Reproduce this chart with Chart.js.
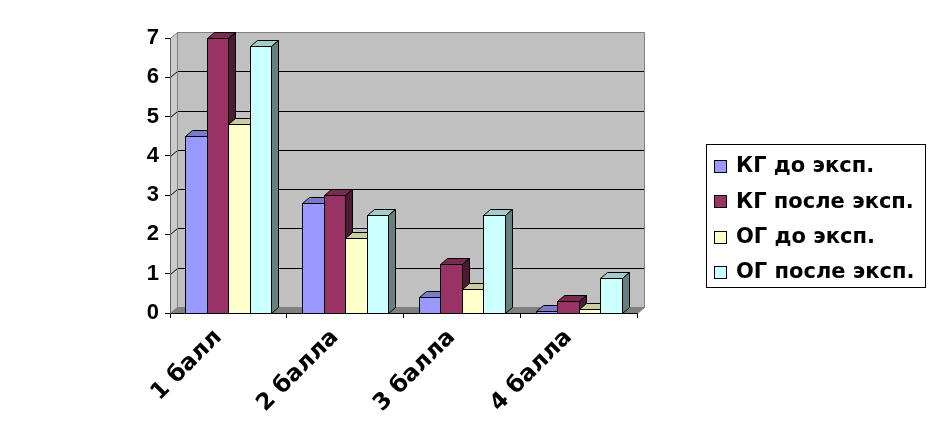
<!DOCTYPE html>
<html><head><meta charset="utf-8">
<script src="https://cdn.jsdelivr.net/npm/chart.js@4/dist/chart.umd.min.js"></script>
<style>html,body{margin:0;padding:0;background:#fff;}#wrap{width:936px;height:432px;}</style>
</head><body><div id="wrap"><canvas id="c" width="936" height="432"></canvas></div>
<script>
const categories = ['1 балл', '2 балла', '3 балла', '4 балла'];
const seriesNames = ['КГ до эксп.', 'КГ после эксп.', 'ОГ до эксп.', 'ОГ после эксп.'];
const kgBefore = [4.5, 2.8, 0.4, 0.05];
const kgAfter  = [7.0, 3.0, 1.25, 0.3];
const ogBefore = [4.8, 1.9, 0.6, 0.1];
const ogAfter  = [6.8, 2.5, 2.5, 0.9];
const yTicks = [0, 1, 2, 3, 4, 5, 6, 7];
const colors = ['#9999FF', '#993366', '#FFFFCC', '#CCFFFF'];

const FONT = '"Liberation Sans", Arial, sans-serif';
const WIDE = '"DejaVu Sans", Verdana, sans-serif';
const DX = 7, DY = -6;

function shade(hex, f) {
  const n = parseInt(hex.slice(1), 16);
  const r = Math.round(((n >> 16) & 255) * f), g = Math.round(((n >> 8) & 255) * f), b = Math.round((n & 255) * f);
  return 'rgb(' + r + ',' + g + ',' + b + ')';
}
function poly(ctx, pts, fill, stroke) {
  ctx.beginPath();
  ctx.moveTo(pts[0][0], pts[0][1]);
  for (let i = 1; i < pts.length; i++) ctx.lineTo(pts[i][0], pts[i][1]);
  ctx.closePath();
  if (fill) { ctx.fillStyle = fill; ctx.fill(); }
  if (stroke) { ctx.strokeStyle = stroke; ctx.lineWidth = 1; ctx.stroke(); }
}

const threeD = {
  id: 'threeD',
  beforeDraw(chart) {
    const ctx = chart.ctx, a = chart.chartArea, ys = chart.scales.y;
    ctx.save();
    const L = a.left + 0.5, R = a.right + 0.5, T = a.top + 0.5, B = a.bottom + 0.5;
    poly(ctx, [[L, T], [L + DX, T + DY], [L + DX, B + DY], [L, B]], '#CBCBCB', null);
    poly(ctx, [[L + DX, T + DY], [R + DX, T + DY], [R + DX, B + DY], [L + DX, B + DY]], '#C0C0C0', null);
    ctx.strokeStyle = '#000'; ctx.lineWidth = 1;
    yTicks.forEach(v => {
      if (v === 0 || v === yTicks[yTicks.length - 1]) return;
      const py = Math.round(ys.getPixelForValue(v)) + 0.5;
      ctx.beginPath();
      ctx.moveTo(L, py); ctx.lineTo(L + DX, py + DY); ctx.lineTo(R + DX, py + DY);
      ctx.stroke();
    });
    poly(ctx, [[L + DX, T + DY], [R + DX, T + DY], [R + DX, B + DY], [L + DX, B + DY]], null, '#808080');
    poly(ctx, [[L, T], [L + DX, T + DY], [L + DX, B + DY], [L, B]], null, '#808080');
    poly(ctx, [[L, B], [R, B], [R + DX, B + DY], [L + DX, B + DY]], '#808080', '#808080');
    ctx.restore();
  },
  beforeDatasetsDraw(chart) {
    const ctx = chart.ctx;
    ctx.save();
    const n = chart.data.labels.length;
    for (let i = 0; i < n; i++) {
      chart.data.datasets.forEach((ds, d) => {
        const el = chart.getDatasetMeta(d).data[i];
        const p = el.getProps(['x', 'y', 'base', 'width'], true);
        const l = Math.round(p.x - p.width / 2) + 0.5, r = Math.round(p.x + p.width / 2) + 0.5;
        const t = Math.round(p.y) + 0.5, b = Math.round(p.base) + 0.5;
        const c = ds.backgroundColor;
        poly(ctx, [[l, t], [r, t], [r, b], [l, b]], c, '#000');
        poly(ctx, [[l, t], [l + DX, t + DY], [r + DX, t + DY], [r, t]], shade(c, 0.8), '#000');
        poly(ctx, [[r, t], [r + DX, t + DY], [r + DX, b + DY], [r, b]], shade(c, 0.5), '#000');
      });
    }
    ctx.restore();
    return false;
  },
  afterDraw(chart) {
    const ctx = chart.ctx;
    ctx.save();
    const bx = 706.5, by = 144.5, bw = 219, bh = 143;
    ctx.fillStyle = '#fff'; ctx.fillRect(bx, by, bw, bh);
    ctx.strokeStyle = '#000'; ctx.lineWidth = 1; ctx.strokeRect(bx, by, bw, bh);
    ctx.font = 'bold 21px ' + WIDE;
    ctx.textBaseline = 'middle'; ctx.textAlign = 'left';
    chart.data.datasets.forEach((ds, d) => {
      const cy = 166 + d * 35.3;
      ctx.fillStyle = ds.backgroundColor;
      ctx.fillRect(714, Math.round(cy - 6), 13, 13);
      ctx.strokeStyle = '#000';
      ctx.strokeRect(714.5, Math.round(cy - 6) + 0.5, 12, 12);
      ctx.fillStyle = '#000';
      ctx.fillText(ds.label, 736, cy + 1);
    });
    ctx.restore();
  }
};

new Chart(document.getElementById('c'), {
  type: 'bar',
  data: {
    labels: categories,
    datasets: [kgBefore, kgAfter, ogBefore, ogAfter].map((vals, k) => ({
      label: seriesNames[k],
      data: vals,
      backgroundColor: colors[k],
      borderColor: '#000',
      borderWidth: 1,
      categoryPercentage: 0.735,
      barPercentage: 1
    }))
  },
  options: {
    responsive: false,
    animation: false,
    devicePixelRatio: 1,
    layout: { padding: { left: 0, right: 299, top: 38, bottom: 0 } },
    plugins: { legend: { display: false }, tooltip: { enabled: false } },
    scales: {
      x: {
        afterFit(s) { s.height = 119; },
        grid: { offset: true, drawOnChartArea: false, color: '#000', tickLength: 5 },
        border: { color: '#000' },
        ticks: { color: '#000', font: { family: WIDE, size: 23, weight: 'bold' }, minRotation: 45, maxRotation: 45, padding: 6, labelOffset: -10 }
      },
      y: {
        min: 0, max: 7,
        afterFit(s) { s.width = 170; },
        afterBuildTicks(s) { s.ticks = yTicks.map(v => ({ value: v })); },
        grid: { drawOnChartArea: false, color: '#000', tickLength: 5 },
        border: { color: '#606060' },
        ticks: { color: '#000', font: { family: FONT, size: 22, weight: 'bold' }, padding: 6 }
      }
    }
  },
  plugins: [threeD]
});
</script></body></html>
